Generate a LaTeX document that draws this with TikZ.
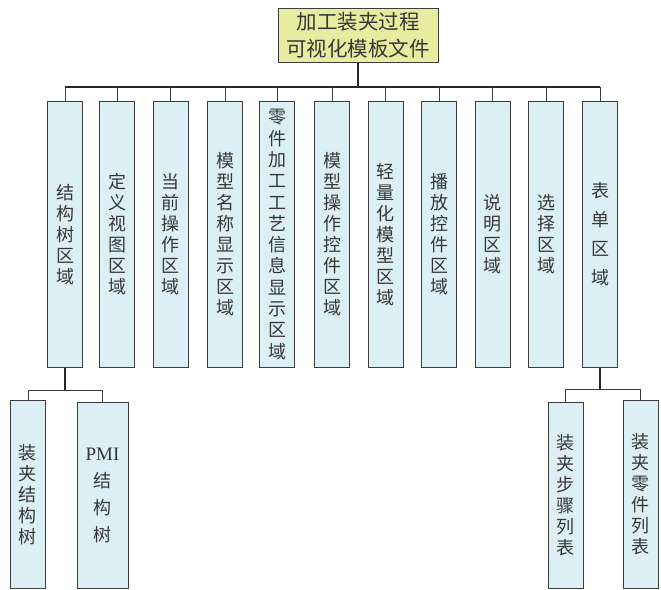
\documentclass[tikz,border=0pt]{standalone}
\usepackage{fontspec}
\newfontfamily\cjk{Noto Sans CJK SC}
\setmainfont{Liberation Serif}
\definecolor{topfill}{RGB}{230,236,160}
\definecolor{boxfill}{RGB}{219,239,244}
\definecolor{edge}{RGB}{60,60,60}
\definecolor{txt}{RGB}{55,55,55}
\begin{document}
\begin{tikzpicture}[x=1pt,y=-1pt,
  box/.style={draw=edge,line width=1pt,fill=boxfill,minimum width=35pt,minimum height=266pt,anchor=north,inner sep=0pt,text=txt,align=center,font=\cjk\fontsize{18}{21}\selectfont},
  subbox/.style={box,minimum height=187pt},
  topbox/.style={draw=edge,line width=1pt,fill=topfill,minimum width=160pt,minimum height=54pt,inner sep=0pt,text=txt,align=center,font=\cjk\fontsize{20.5}{27}\selectfont},
  thick line/.style={draw=black!85,line width=1.8pt},
  thin line/.style={draw=edge,line width=1pt}]
\useasboundingbox (0,0) rectangle (661,589);
\node[topbox] (top) at (358,35) {加工装夹过程\\可视化模板文件};
\node[box] (b1) at (65,101) {结\\构\\树\\区\\域};
\node[box] (b2) at (117,101) {定\\义\\视\\图\\区\\域};
\node[box] (b3) at (170.5,101) {当\\前\\操\\作\\区\\域};
\node[box] (b4) at (225,101) {模\\型\\名\\称\\显\\示\\区\\域};
\node[box,font=\cjk\fontsize{18}{21.3}\selectfont] (b5) at (277,101) {零\\件\\加\\工\\工\\艺\\信\\息\\显\\示\\区\\域};
\node[box] (b6) at (332,101) {模\\型\\操\\作\\控\\件\\区\\域};
\node[box] (b7) at (385.5,101) {轻\\量\\化\\模\\型\\区\\域};
\node[box] (b8) at (439,101) {播\\放\\控\\件\\区\\域};
\node[box] (b9) at (492.5,101) {说\\明\\区\\域};
\node[box] (b10) at (546,101) {选\\择\\区\\域};
\node[box,font=\cjk\fontsize{18}{29}\selectfont] (b11) at (600,101) {表\\单\\区\\域};
\node[subbox,minimum height=188pt] (s1) at (28,400) {装\\夹\\结\\构\\树};
\node[subbox,minimum width=51pt,minimum height=186pt,font=\cjk\fontsize{18}{27}\selectfont] (s2) at (102.5,402) {{\rmfamily\fontsize{19}{27}\selectfont PMI}\\结\\构\\树};
\node[subbox,minimum height=186pt] (s3) at (565.5,402) {装\\夹\\步\\骤\\列\\表};
\node[subbox,minimum height=188pt] (s4) at (640.5,400) {装\\夹\\零\\件\\列\\表};
\coordinate (busL) at (65,87);
\coordinate (busR) at (600,87);
\draw[thick line] (top.south) -- (top.south |- busL);
\draw[thick line] (busL) -- (busR);
\foreach \b in {b1,b2,b3,b4,b5,b6,b7,b8,b9,b10,b11}
  \draw[thin line] (\b.north |- busL) -- (\b.north);
\coordinate (lbus) at (65,390);
\draw[thick line] (b1.south) -- (lbus);
\draw[thin line] (s1.north) -- (s1.north |- lbus) -- (s2.north |- lbus) -- (s2.north);
\coordinate (rbus) at (600,389);
\draw[thick line] (b11.south) -- (rbus);
\draw[thin line] (s3.north) -- (s3.north |- rbus) -- (s4.north |- rbus) -- (s4.north);
\end{tikzpicture}
\end{document}
